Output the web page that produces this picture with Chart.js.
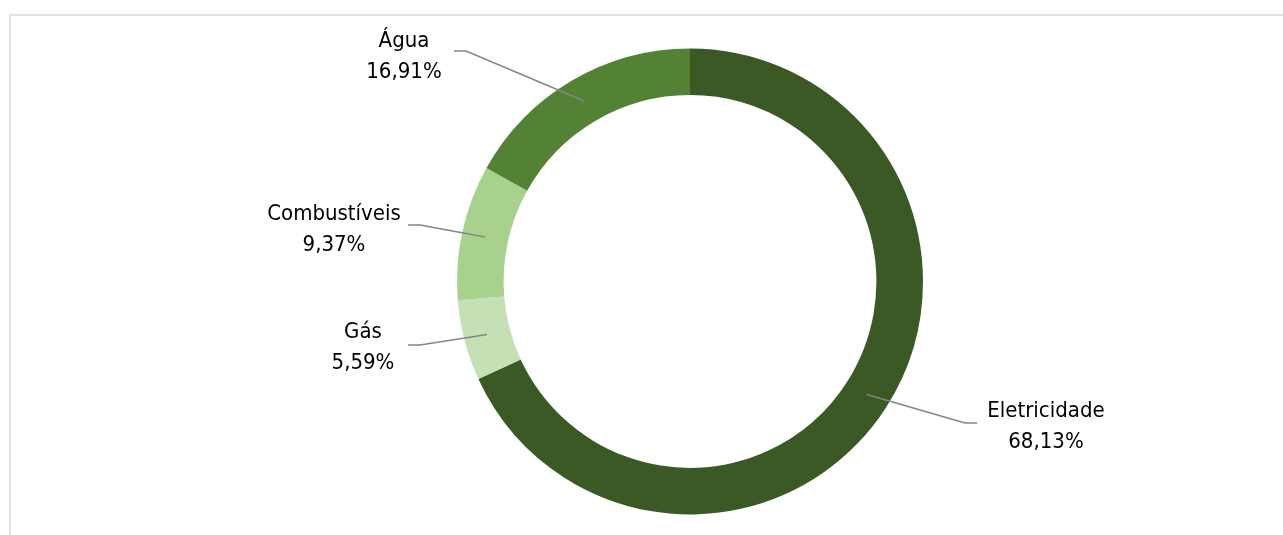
<!DOCTYPE html>
<html lang="pt">
<head>
<meta charset="utf-8">
<script src="https://cdn.jsdelivr.net/npm/chart.js@4"></script>
<style>
  html, body { margin: 0; padding: 0; background: #fff; overflow: hidden; }
  body { width: 1283px; height: 535px; position: relative; }
  .frame {
    position: absolute; left: 9px; top: 14px; width: 1400px; height: 700px;
    border-top: 2px solid #dfe3eb; border-left: 2px solid #dfe3eb;
  }
  #grafico { position: absolute; left: 0; top: 0; }
</style>
</head>
<body>
<div class="frame"></div>
<canvas id="grafico" width="1283" height="535"></canvas>
<script>
// Dados do gráfico (sentido horário a partir do topo)
const categorias = ['Eletricidade', 'Gás', 'Combustíveis', 'Água'];
const percentuais = [68.13, 5.59, 9.37, 16.91];
const cores = ['#3a5924', '#c5e0b4', '#a9d18e', '#548235'];

// Posição dos rótulos em relação ao centro da rosca (texto e cotovelo da linha)
const posTexto = [[356, 144], [-327, 64.5], [-356, -53.5], [-286, -226.5]];
const posCotovelo = [[275, 141.5], [-270, 63.5], [-270, -56.5], [-224, -230.5]];

function formatarPct(v) {
    return v.toFixed(2).replace('.', ',') + '%';
}

// Desenha as linhas de chamada e os rótulos ao lado da rosca
const rotulosPlugin = {
    id: 'rotulos',
    afterDatasetsDraw(chart) {
        const ctx = chart.ctx;
        const meta = chart.getDatasetMeta(0);
        ctx.save();
        ctx.font = '22px "DejaVu Sans Condensed", "DejaVu Sans"';
        ctx.textAlign = 'center';
        ctx.textBaseline = 'alphabetic';
        meta.data.forEach((arc, i) => {
            const cx = arc.x, cy = arc.y;
            const ponto = arc.tooltipPosition();
            const ex = cx + posCotovelo[i][0];
            const ey = cy + posCotovelo[i][1];
            const lado = posCotovelo[i][0] < 0 ? -1 : 1;

            ctx.strokeStyle = '#858585';
            ctx.lineWidth = 1.5;
            ctx.beginPath();
            ctx.moveTo(ex + lado * 12, ey);
            ctx.lineTo(ex, ey);
            ctx.lineTo(ponto.x, ponto.y);
            ctx.stroke();

            const tx = cx + posTexto[i][0];
            const ty = cy + posTexto[i][1];
            ctx.fillStyle = '#000';
            ctx.fillText(categorias[i], tx, ty - 8.5);
            ctx.fillText(formatarPct(percentuais[i]), tx, ty + 22.5);
        });
        ctx.restore();
    }
};

new Chart(document.getElementById('grafico'), {
    type: 'doughnut',
    data: {
        labels: categorias,
        datasets: [{
            data: percentuais,
            backgroundColor: cores,
            borderWidth: 0,
        }],
    },
    options: {
        responsive: false,
        animation: false,
        cutout: '80%',
        layout: { padding: { left: 457, right: 360, top: 48.5, bottom: 20.5 } },
        plugins: {
            legend: { display: false },
            tooltip: { enabled: false },
        },
    },
    plugins: [rotulosPlugin],
});
</script>
</body>
</html>
